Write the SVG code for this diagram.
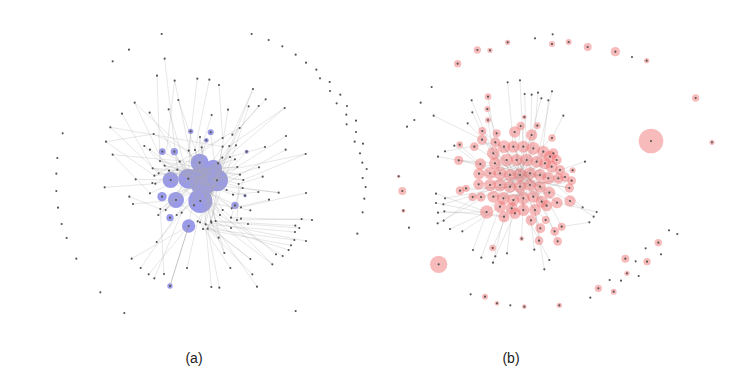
<svg xmlns="http://www.w3.org/2000/svg" width="738" height="368" viewBox="0 0 738 368">
<style>
.e{fill:none;stroke:#a8a8a8;stroke-width:1.4;stroke-opacity:0.6}
.d{fill:none;stroke:#555;stroke-width:6.5;stroke-linecap:round}
.b circle{fill:#5858dd}
.p circle{fill:#f07070;fill-opacity:0.48}
.lbl{font-family:"Liberation Sans",Arial,sans-serif;font-size:14px;fill:#222;text-anchor:middle}
</style>
<rect width="738" height="368" fill="#fff"/>
<g id="panel-a" transform="translate(40,20) scale(0.33333)">
<g id="a-nodes-blue" class="b" opacity="0.6">
<circle cx="479" cy="428" r="27"/><circle cx="445" cy="476" r="30"/><circle cx="531" cy="481" r="33"/><circle cx="481" cy="543" r="36"/><circle cx="490" cy="480" r="45"/><circle cx="520" cy="445" r="26"/>
<circle cx="392" cy="480" r="24"/><circle cx="408" cy="540" r="24"/><circle cx="366" cy="530" r="14"/><circle cx="446" cy="618" r="20"/><circle cx="390" cy="593" r="11"/><circle cx="585" cy="556" r="11"/><circle cx="367" cy="395" r="10"/><circle cx="403" cy="395" r="11"/><circle cx="452" cy="334" r="8"/><circle cx="512" cy="337" r="9"/><circle cx="499" cy="361" r="7"/><circle cx="620" cy="395" r="6"/><circle cx="615" cy="527" r="5"/><circle cx="390" cy="798" r="8"/>
</g>
<g id="a-connectors">
<path class="e" d="M374 116L412 449M351 167L360 423M404 182L380 390M472 176L446 392M508 179L465 390M537 195L548 354M639 207L577 344M415 240L479 428M677 238L548 380M284 248L374 437M386 268L445 476M329 278L419 425M564 269L531 481M515 285L485 382M626 259L588 376M656 258L599 324M734 264L568 378M246 281L338 445M211 322L356 460M198 365L343 467M218 404L330 520M194 502L346 491M287 478L392 480M268 530L361 567M279 552L408 540M341 342L446 392M313 378L387 452M330 389L445 476M599 324L531 481M738 348L592 441M737 389L600 464M797 402L610 480M675 381L570 411M657 442L531 481M668 470L596 492M655 516L579 524M716 518L608 504M798 519L603 562M687 539L575 565M631 571L481 543M785 597L591 600M816 600L573 593M766 617L527 603M778 624L513 604M765 636L497 613M763 660L503 626M798 663L514 608M753 676L489 627M746 690L480 607M728 708L540 585M708 703L548 570M697 733L527 603M631 717L497 613M573 624L481 543M536 653L497 613M553 699L514 608M571 744L480 607M637 763L503 626M651 800L513 604M538 803L503 626M514 801L497 613M441 744L473 604M350 666L425 578M275 716L446 618M302 744L410 585M326 763L446 618M343 775L425 578M372 762L361 567M355 585L445 476M377 570L479 428M338 445L531 481M343 467L599 324M346 491L548 354M360 423L600 464M374 437L610 480M387 452L592 441M412 449L575 565M419 425L540 585M446 392L527 603M465 390L513 604M485 382L497 613M480 351L462 556M548 380L410 585M568 378L425 578M588 376L355 585M547 413L377 570M534 430L361 567M570 411L330 520M585 418L346 491M592 441L343 467M600 464L338 445M610 480L356 460M596 492L360 423M608 504L374 437M579 524L387 452M560 510L412 449M575 565L419 425M548 570L446 392M540 585L465 390M527 603L485 382M513 604L480 351M497 613L548 380M480 607L568 378M503 626L588 376M514 608L547 413M489 627L534 430M473 604L570 411M425 578L585 418M410 585L592 441M462 556L600 464M573 593L610 480M591 600L596 492M603 562L338 445M479 428L445 476L531 481L481 543L445 476M479 428L531 481M479 428L481 543M392 480L481 543M408 540L531 481M446 618L479 428M198 365L341 342M211 322L548 380M734 264L377 570M639 207L531 481M404 182L481 543M284 248L531 481M218 404L479 428M797 402L445 476M716 518L392 480M631 717L408 540M697 733L445 476M553 699L479 428M367 395L531 481M403 395L481 543M452 334L445 476M512 337L531 481M499 361L479 428M620 395L481 543M615 527L445 476M366 530L531 481"/>
<path d="M390 798L446 618" fill="none" stroke="#9a9a9a" stroke-width="3" stroke-opacity="0.6"/>
</g>
<g id="a-nodes">
<path class="d" d="M365 42h0M635 42h0M686 60h0M727 79h0M767 104h0M798 128h0M829 149h0M840 175h0M869 186h0M870 213h0M901 224h0M890 250h0M921 258h0M919 284h0M948 302h0M920 313h0M948 336h0M944 365h0M969 371h0M960 400h0M967 428h0M980 447h0M968 474h0M977 501h0M973 536h0M968 577h0M952 641h0M267 89h0M218 124h0M68 340h0M52 414h0M49 461h0M49 513h0M54 563h0M65 612h0M80 654h0M109 716h0M181 817h0M253 879h0M767 873h0
M374 116h0M351 167h0M404 182h0M472 176h0M508 179h0M537 195h0M639 207h0M415 240h0M677 238h0M284 248h0M386 268h0M329 278h0M564 269h0M515 285h0M626 259h0M656 258h0M734 264h0M246 281h0M211 322h0M198 365h0M218 404h0M194 502h0M287 478h0M268 530h0M279 552h0M341 342h0M313 378h0M330 389h0M599 324h0M577 344h0M548 354h0M738 348h0M737 389h0M797 402h0M675 381h0M657 442h0M668 470h0M655 516h0M716 518h0M798 519h0M687 539h0M631 571h0M603 596h0M624 612h0M785 597h0M816 600h0M766 617h0M778 624h0M765 636h0M763 660h0M798 663h0M753 676h0M746 690h0M728 708h0M708 703h0M697 733h0M631 717h0M573 624h0M536 653h0M553 699h0M571 744h0M637 763h0M651 800h0M538 803h0M514 801h0M441 744h0M350 666h0M275 716h0M302 744h0M326 763h0M343 775h0M372 762h0M355 585h0M361 567h0M377 570h0M338 445h0M343 467h0M346 491h0M337 489h0M330 520h0M356 460h0M360 423h0M374 437h0M387 452h0M412 449h0M419 425h0M446 392h0M465 390h0M485 382h0M480 351h0M548 380h0M568 378h0M588 376h0M547 413h0M534 430h0M570 411h0M585 418h0M592 441h0M600 464h0M610 480h0M596 492h0M608 504h0M579 524h0M560 510h0M575 565h0M548 570h0M540 585h0M527 603h0M513 604h0M497 613h0M480 607h0M503 626h0M514 608h0M489 627h0M473 604h0M425 578h0M410 585h0M462 556h0M573 593h0M591 600h0M603 562h0
M479 428h0M445 476h0M531 481h0M481 543h0M392 480h0M408 540h0M366 530h0M446 618h0M390 593h0M585 556h0M367 395h0M403 395h0M452 334h0M512 337h0M499 361h0M620 395h0M615 527h0M390 798h0"/>
</g>
</g>
<g id="panel-b" transform="translate(380,20) scale(0.33333)">
<g id="b-connectors">
<path class="e" d="M168 521L320 576M168 549L372 590M174 578L320 576M173 610L405 480M210 627L320 576M247 634L360 560M191 602L330 495M193 574L372 590M190 553L300 520M195 535L390 500M174 410L301 432M195 394L346 367M161 287L306 359M263 310L372 420M275 241L340 400M277 277L360 460M223 377L330 460M279 690L320 576M304 713L360 560M339 728L372 590M346 709L405 580M381 700L400 540M463 689L453 601M508 720L430 570M493 748L465 570M383 187L400 380M420 181L430 380M434 222L440 420M455 224L450 460M474 218L460 385M484 235L420 465M505 241L480 465M516 214L470 425M550 287L516 354M578 451L480 465M615 425L540 450M608 562L505 475M641 590L570 543M650 576L531 548M628 607L545 620M324 230L360 460M322 267L390 465M324 300L340 400M239 374L330 460M236 421L345 430M240 512L390 500M258 505L420 500M338 684L400 540M425 656L430 535M477 662L460 530M533 664L485 545M524 634L450 495M472 317L440 420M422 318L410 420M433 291L420 465M330 460L535 475M345 430L505 475M340 400L500 557M372 380L485 545M400 380L460 530M430 380L430 570M460 385L395 565M490 395L360 560M510 410L340 530M515 440L330 495M380 420L531 548M410 420L500 557M440 420L370 535M470 425L330 495M495 430L360 495M360 460L555 471M390 465L568 504M420 465L320 576M450 460L372 590M480 465L301 432M505 475L346 367M360 495L516 354M390 500L455 345M420 500L404 336M450 495L306 359M480 500L297 461M340 530L508 518M370 535L575 482M400 540L510 410M430 535L340 400M460 530L372 380M485 545L400 380M360 560L460 385M395 565L490 395M430 570L420 465M465 570L380 420M520 400L330 460M540 450L296 493M283 380L420 465M307 333L410 420M236 421L420 465M278 531L450 460M303 531L480 465M453 601L390 465M481 625L420 465M497 600L360 460M545 620L440 420M570 543L345 430M568 504L330 460M575 482L360 495M555 471L340 530M531 548L380 420M500 557L410 420M508 518L340 400"/>
</g>
<g id="b-nodes-pink" class="p">
<circle cx="292" cy="90" r="11"/><circle cx="330" cy="91" r="8"/><circle cx="383" cy="67" r="8"/><circle cx="516" cy="72" r="9"/><circle cx="566" cy="66" r="9"/><circle cx="623" cy="81" r="12"/><circle cx="706" cy="95" r="14"/><circle cx="800" cy="122" r="8"/><circle cx="233" cy="131" r="11"/><circle cx="947" cy="234" r="11"/><circle cx="813" cy="363" r="37"/><circle cx="996" cy="367" r="8"/><circle cx="56" cy="469" r="5"/><circle cx="67" cy="513" r="12"/><circle cx="70" cy="572" r="6"/><circle cx="176" cy="733" r="26"/><circle cx="315" cy="830" r="9"/><circle cx="351" cy="850" r="7"/><circle cx="433" cy="860" r="7"/><circle cx="538" cy="856" r="8"/><circle cx="655" cy="805" r="11"/><circle cx="701" cy="815" r="9"/><circle cx="741" cy="760" r="8"/><circle cx="736" cy="716" r="12"/><circle cx="801" cy="725" r="11"/><circle cx="835" cy="668" r="11"/>
<circle cx="324" cy="230" r="10"/><circle cx="322" cy="267" r="9"/><circle cx="324" cy="300" r="9"/><circle cx="307" cy="333" r="12"/><circle cx="306" cy="359" r="15"/><circle cx="283" cy="380" r="13"/><circle cx="239" cy="374" r="10"/><circle cx="236" cy="421" r="14"/><circle cx="240" cy="512" r="13"/><circle cx="258" cy="505" r="11"/><circle cx="278" cy="531" r="13"/><circle cx="303" cy="531" r="14"/><circle cx="320" cy="576" r="20"/><circle cx="372" cy="590" r="17"/><circle cx="405" cy="580" r="17"/><circle cx="453" cy="601" r="16"/><circle cx="481" cy="625" r="15"/><circle cx="497" cy="600" r="12"/><circle cx="524" cy="634" r="13"/><circle cx="545" cy="620" r="12"/><circle cx="533" cy="664" r="13"/><circle cx="477" cy="662" r="13"/><circle cx="425" cy="656" r="7"/><circle cx="338" cy="684" r="10"/><circle cx="570" cy="543" r="17"/><circle cx="568" cy="504" r="14"/><circle cx="575" cy="482" r="13"/><circle cx="555" cy="471" r="14"/><circle cx="531" cy="548" r="17"/><circle cx="500" cy="557" r="17"/><circle cx="508" cy="518" r="18"/><circle cx="578" cy="451" r="9"/><circle cx="516" cy="354" r="11"/><circle cx="472" cy="317" r="10"/><circle cx="455" cy="345" r="17"/><circle cx="422" cy="318" r="13"/><circle cx="404" cy="336" r="17"/><circle cx="346" cy="367" r="15"/><circle cx="433" cy="291" r="7"/><circle cx="301" cy="432" r="17"/><circle cx="297" cy="461" r="17"/><circle cx="296" cy="493" r="16"/>
<circle cx="340" cy="400" r="19"/><circle cx="372" cy="380" r="19"/><circle cx="400" cy="380" r="18"/><circle cx="430" cy="380" r="18"/><circle cx="460" cy="385" r="19"/><circle cx="490" cy="395" r="18"/><circle cx="510" cy="410" r="18"/><circle cx="515" cy="440" r="18"/><circle cx="345" cy="430" r="18"/><circle cx="380" cy="420" r="19"/><circle cx="410" cy="420" r="18"/><circle cx="440" cy="420" r="19"/><circle cx="470" cy="425" r="18"/><circle cx="495" cy="430" r="18"/><circle cx="330" cy="460" r="18"/><circle cx="360" cy="460" r="19"/><circle cx="390" cy="465" r="18"/><circle cx="420" cy="465" r="20"/><circle cx="450" cy="460" r="18"/><circle cx="480" cy="465" r="18"/><circle cx="505" cy="475" r="18"/><circle cx="535" cy="475" r="16"/><circle cx="330" cy="495" r="18"/><circle cx="360" cy="495" r="19"/><circle cx="390" cy="500" r="18"/><circle cx="420" cy="500" r="19"/><circle cx="450" cy="495" r="18"/><circle cx="480" cy="500" r="18"/><circle cx="340" cy="530" r="18"/><circle cx="370" cy="535" r="19"/><circle cx="400" cy="540" r="18"/><circle cx="430" cy="535" r="19"/><circle cx="460" cy="530" r="18"/><circle cx="485" cy="545" r="18"/><circle cx="360" cy="560" r="18"/><circle cx="395" cy="565" r="18"/><circle cx="430" cy="570" r="18"/><circle cx="465" cy="570" r="18"/><circle cx="520" cy="400" r="15"/><circle cx="530" cy="420" r="15"/><circle cx="540" cy="450" r="15"/><circle cx="350" cy="340" r="12"/>
</g>
<g id="b-nodes">
<path class="d" d="M465 55h0M518 43h0M756 111h0M155 201h0M122 248h0M103 300h0M81 320h0M87 623h0M272 823h0M391 856h0M631 833h0M689 780h0M723 782h0M776 768h0M767 724h0M797 685h0M843 703h0M867 631h0M892 642h0
M292 90h0M330 91h0M383 67h0M516 72h0M566 66h0M623 81h0M706 95h0M800 122h0M233 131h0M947 234h0M813 363h0M996 367h0M56 469h0M67 513h0M70 572h0M176 733h0M315 830h0M351 850h0M433 860h0M538 856h0M655 805h0M701 815h0M741 760h0M736 716h0M801 725h0M835 668h0
M168 521h0M168 549h0M174 578h0M173 610h0M210 627h0M247 634h0M191 602h0M193 574h0M190 553h0M195 535h0M174 410h0M195 394h0M161 287h0M263 310h0M275 241h0M277 277h0M223 377h0M279 690h0M304 713h0M339 728h0M346 709h0M381 700h0M463 689h0M508 720h0M493 748h0M383 187h0M420 181h0M434 222h0M455 224h0M474 218h0M484 235h0M505 241h0M516 214h0M550 287h0M615 425h0M608 562h0M641 590h0M650 576h0M628 607h0
M324 230h0M322 267h0M324 300h0M307 333h0M306 359h0M283 380h0M239 374h0M236 421h0M240 512h0M258 505h0M278 531h0M303 531h0M320 576h0M372 590h0M405 580h0M453 601h0M481 625h0M497 600h0M524 634h0M545 620h0M533 664h0M477 662h0M425 656h0M338 684h0M570 543h0M568 504h0M575 482h0M555 471h0M531 548h0M500 557h0M508 518h0M578 451h0M516 354h0M472 317h0M455 345h0M422 318h0M404 336h0M346 367h0M433 291h0M301 432h0M297 461h0M296 493h0
M340 400h0M372 380h0M400 380h0M430 380h0M460 385h0M490 395h0M510 410h0M515 440h0M345 430h0M380 420h0M410 420h0M440 420h0M470 425h0M495 430h0M330 460h0M360 460h0M390 465h0M420 465h0M450 460h0M480 465h0M505 475h0M535 475h0M330 495h0M360 495h0M390 500h0M420 500h0M450 495h0M480 500h0M340 530h0M370 535h0M400 540h0M430 535h0M460 530h0M485 545h0M360 560h0M395 565h0M430 570h0M465 570h0M520 400h0M530 420h0M540 450h0M350 340h0"/>
</g>
</g>
<g id="labels">
<text class="lbl" x="194" y="363">(a)</text>
<text class="lbl" x="511" y="363">(b)</text>
</g>
</svg>
